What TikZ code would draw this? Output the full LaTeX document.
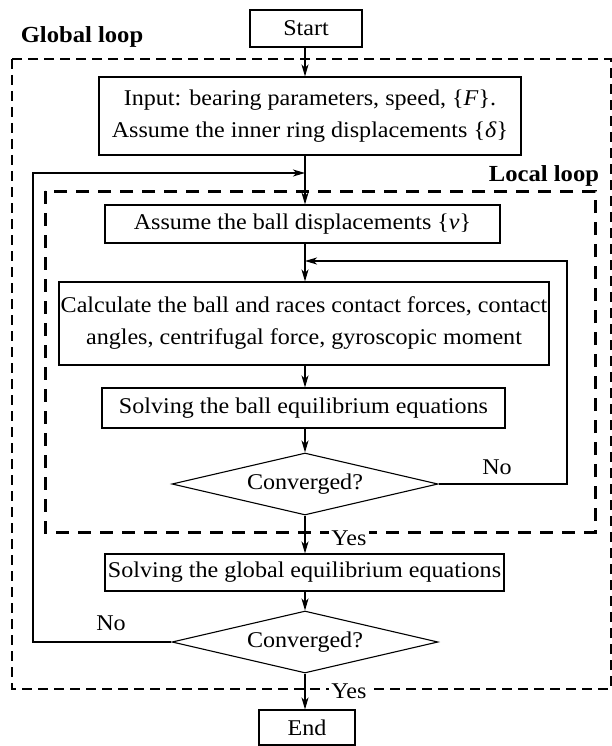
\documentclass[tikz,border=0pt]{standalone}
\usepackage{fontspec}
\setmainfont[FakeStretch=1.07]{Liberation Serif}
\usetikzlibrary{shapes.geometric,arrows.meta}

\begin{document}
\begin{tikzpicture}[x=1pt,y=-1pt,
    every node/.style={font=\fontsize{22.5}{32}\selectfont},
    box/.style={draw,line width=1.1pt,inner sep=0pt,align=center},
    decision/.style={draw,diamond,aspect=4.3,line width=1.1pt,inner sep=0pt,
      minimum width=266pt,minimum height=62pt},
    flow/.style={line width=1.1pt,->,>={Stealth[length=12pt,width=7pt,inset=3.5pt]}},
    tag/.style={fill=white,inner sep=2pt},
    loopname/.style={font=\fontsize{23}{26}\selectfont\bfseries}]
  \useasboundingbox (0,0) rectangle (612,746);

  % the two loops
  \draw[line width=1.2pt,dash pattern=on 10pt off 6pt] (12,59) rectangle (611,689);
  \draw[line width=3pt,dash pattern=on 13pt off 9pt] (45,191) rectangle (595,532);
  \node[loopname] (glabel) at (82,37) {Global loop};
  \node[loopname] (llabel) at (544,176) {Local loop};

  \coordinate (spine) at (305,0);

  % steps
  \node[box,minimum width=112pt,minimum height=37pt] (start) at (306,28.5) {Start};
  \node[box,minimum width=422pt,minimum height=78pt] (input) at (310,116)
    {Input: bearing parameters, speed, \{\textit{F}\}.\\Assume the inner ring displacements \{\textit{δ}\}};
  \node[box,minimum width=395pt,minimum height=38pt] (ball) at (302.5,224)
    {Assume the ball displacements \{\textit{v}\}};
  \node[box,minimum width=490pt,minimum height=83pt] (calc) at (304,323.5)
    {Calculate the ball and races contact forces, contact\\angles, centrifugal force, gyroscopic moment};
  \node[box,minimum width=403pt,minimum height=40pt] (solveb) at (303.5,408)
    {Solving the ball equilibrium equations};
  \node[decision] (conv1) at (305,484) {Converged?};
  \node[box,minimum width=399pt,minimum height=37pt] (solveg) at (304.5,572.5)
    {Solving the global equilibrium equations};
  \node[decision] (conv2) at (305,642) {Converged?};
  \node[box,minimum width=96pt,minimum height=35pt] (end) at (307,727.5) {End};

  % joints of the feedback lines
  \coordinate (gjoin) at (305,173);
  \coordinate (ljoin) at (305,261);
  \coordinate (gleft) at (33,642);
  \coordinate (lright) at (567,484);

  % main flow
  \draw[flow] (start.south -| spine) -- (input.north -| spine);
  \draw[flow] (input.south -| spine) -- (ball.north -| spine);
  \draw[flow] (ball.south -| spine) -- (calc.north -| spine);
  \draw[flow] (calc.south -| spine) -- (solveb.north -| spine);
  \draw[flow] (solveb.south -| spine) -- (conv1.north);
  \draw[flow] (conv1.south) -- (solveg.north -| spine);
  \draw[flow] (solveg.south -| spine) -- (conv2.north);
  \draw[flow] (conv2.south) -- (end.north -| spine);

  % feedback
  \draw[flow] (conv1.east) -- (lright) |- (ljoin);
  \draw[flow] (conv2.west) -- (gleft) |- (gjoin);

  \node[tag] (yes1) at (349,538) {Yes};
  \node[tag] (yes2) at (349,691) {Yes};
  \node (no1) at (497,467) {No};
  \node (no2) at (111,623) {No};
\end{tikzpicture}
\end{document}
